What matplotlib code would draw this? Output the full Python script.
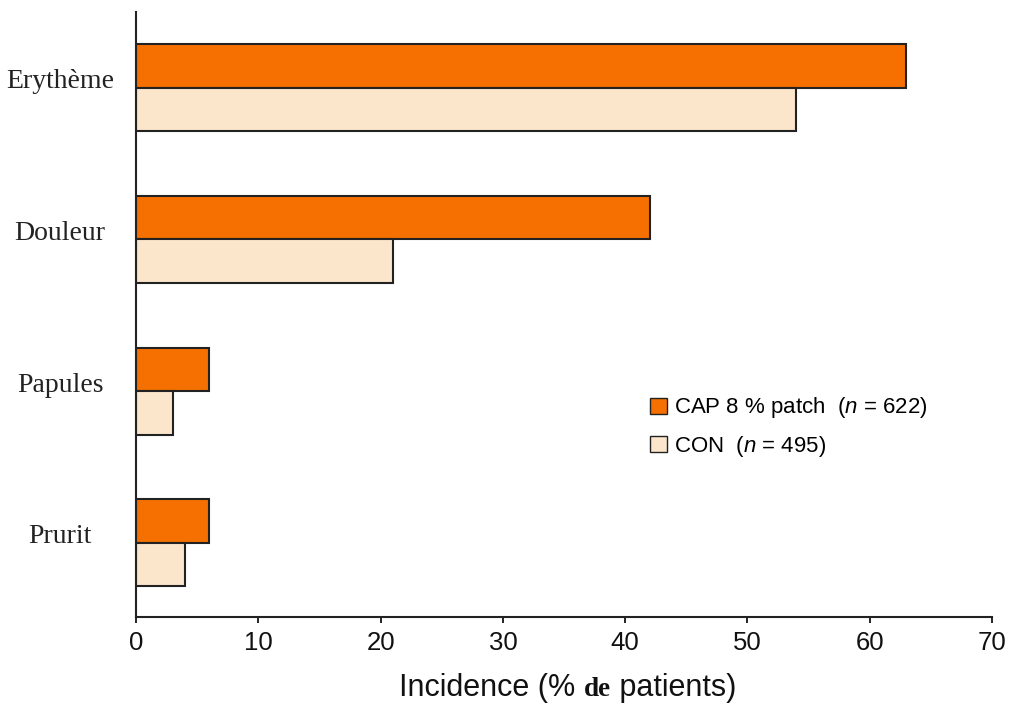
import matplotlib
matplotlib.use("Agg")
import matplotlib.pyplot as plt
import matplotlib.transforms as mtransforms
import numpy as np

categories = ["Erythème", "Douleur", "Papules", "Prurit"]
cap_values = [63, 42, 6, 6]
con_values = [54, 21, 3, 4]
series_labels = [r"CAP 8 % patch  ($\mathit{n}$ = 622)", r"CON  ($\mathit{n}$ = 495)"]
xticks = [0, 10, 20, 30, 40, 50, 60, 70]

plt.rcParams['mathtext.fontset'] = 'custom'
plt.rcParams['mathtext.it'] = 'Liberation Sans:italic'
plt.rcParams['mathtext.rm'] = 'Liberation Sans'

fig = plt.figure(figsize=(10.13, 7.12), dpi=100)
fig.patch.set_facecolor('white')
ax = fig.add_axes([0.1343, 0.1334, 0.8450, 0.8497])

centers = np.arange(len(categories))[::-1].astype(float)
h = 0.2875
orange = '#F57000'
light = '#FBE6CC'
ax.barh(centers + h / 2, cap_values, height=h, color=orange, edgecolor='#222222', linewidth=1.5, label=series_labels[0])
ax.barh(centers - h / 2, con_values, height=h, color=light, edgecolor='#222222', linewidth=1.5, label=series_labels[1])

ax.set_xlim(0, 70)
ax.set_ylim(-0.49, 3.50)
ax.set_xticks(xticks)
ax.set_xticklabels([str(t) for t in xticks], fontsize=18.5, family='Liberation Sans', color='#111111')
ax.set_yticks(centers)
ax.set_yticklabels([])
ax.tick_params(axis='y', length=0)
ax.tick_params(axis='x', length=4, width=1.2, pad=6)
for s in ['top', 'right']:
    ax.spines[s].set_visible(False)
for s in ['left', 'bottom']:
    ax.spines[s].set_linewidth(1.5)
    ax.spines[s].set_color('#222222')

# category labels (centered left of axis, slightly raised)
lab_x = (60 - 136) / 856
trans = mtransforms.offset_copy(ax.get_yaxis_transform(), fig=fig, x=0, y=6, units='dots')
for c, lab in zip(centers, categories):
    ax.text(lab_x, c, lab, transform=trans, ha='center', va='center',
            fontsize=20, family='Liberation Serif', color='#222222')

# x label with mixed fonts
y_lab = 0.022
parts = [("Incidence (% ", 'Liberation Sans', 'normal', 22),
         ("de", 'Liberation Serif', 'bold', 19.5),
         (" patients)", 'Liberation Sans', 'normal', 22)]
texts = [fig.text(0, y_lab, p[0], family=p[1], weight=p[2], fontsize=p[3], va='baseline', color='#111111') for p in parts]
fig.canvas.draw()
r = fig.canvas.get_renderer()
widths = [t.get_window_extent(r).width / fig.bbox.width for t in texts]
total = sum(widths)
xc = (398 + 738) / 2 / 1013
x0 = xc - total / 2
for t, w in zip(texts, widths):
    t.set_x(x0)
    x0 += w

leg = ax.legend(loc='upper left', bbox_to_anchor=(0.59, 0.381), frameon=False,
                handlelength=0.75, handleheight=0.75, handletextpad=0.35, labelspacing=0.6,
                borderaxespad=0, prop={'family': 'Liberation Sans', 'size': 16})
for hnd in leg.legend_handles:
    hnd.set_linewidth(1.0)

fig.savefig("out.png", dpi=100, facecolor='white')
